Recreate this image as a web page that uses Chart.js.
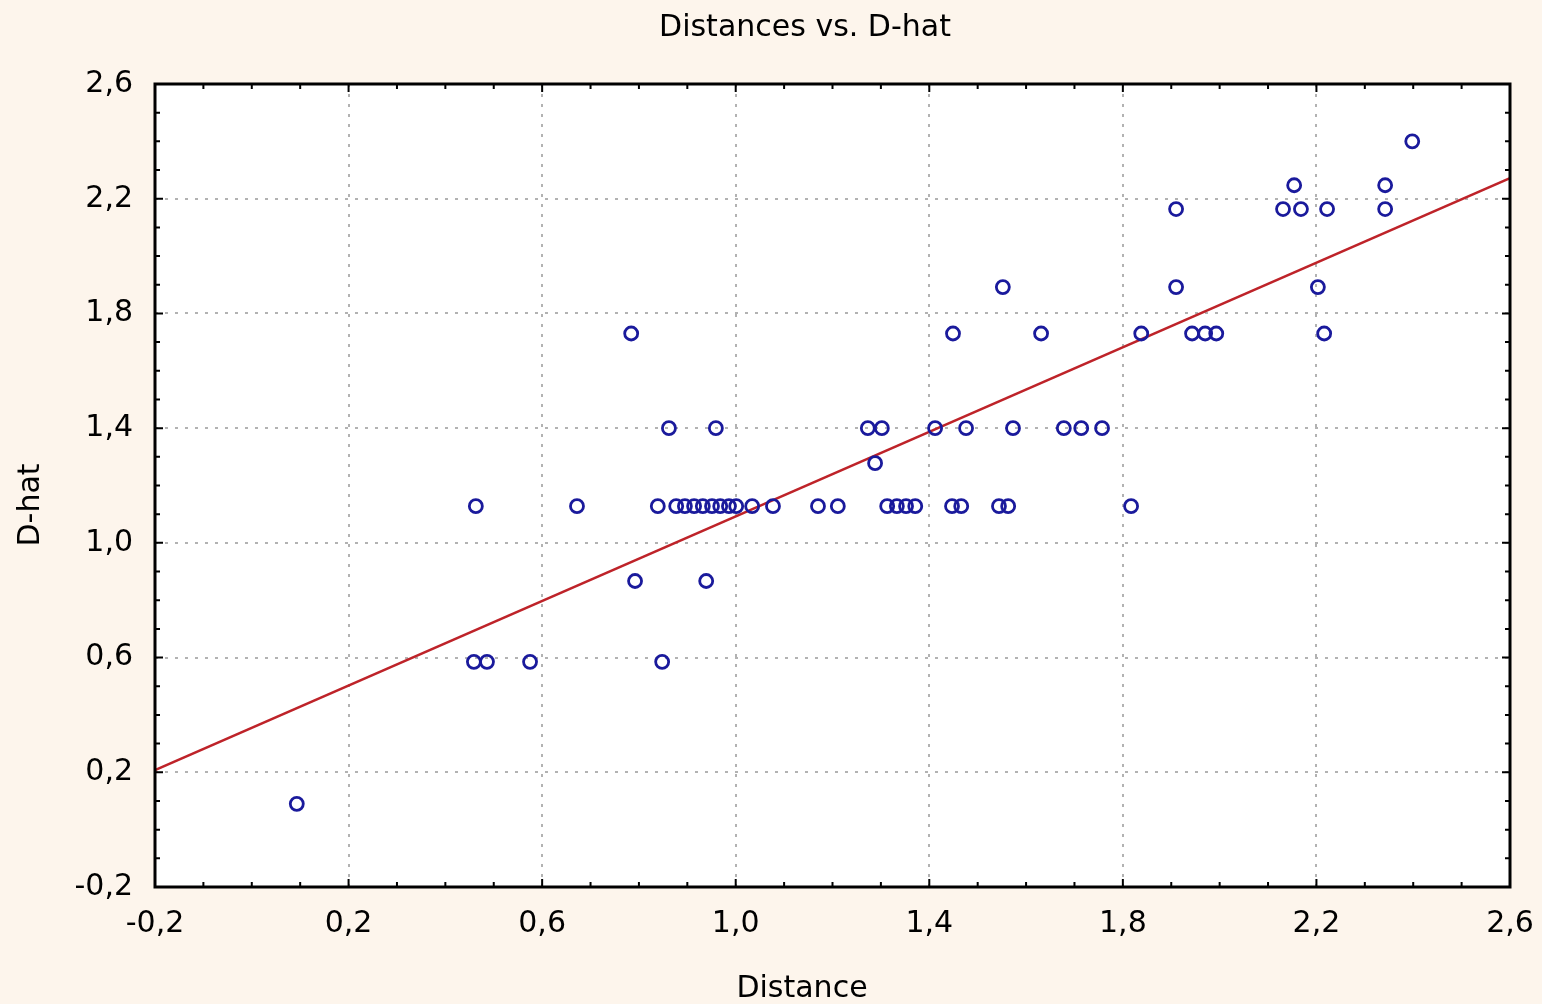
<!DOCTYPE html>
<html>
<head>
<meta charset="utf-8">
<title>Distances vs. D-hat</title>
<script src="https://cdn.jsdelivr.net/npm/chart.js@4.4.1/dist/chart.umd.min.js"></script>
<style>
  html, body { margin: 0; padding: 0; background: #fdf5ec; }
  #wrap { width: 1542px; height: 1004px; }
</style>
</head>
<body>
<div id="wrap"><canvas id="chart" width="1542" height="1004"></canvas></div>
<script>
// Values, one row of dots per line
const distance = [
  2.398,
  2.154, 2.342,
  1.910, 2.131, 2.168, 2.222, 2.342,
  1.552, 1.910, 2.203,
  0.784, 1.449, 1.631, 1.838, 1.943, 1.970, 1.993, 2.216,
  0.862, 0.959, 1.273, 1.302, 1.412, 1.476, 1.573, 1.678, 1.714, 1.757,
  1.288,
  0.463, 0.672, 0.839, 0.877, 0.895, 0.914, 0.932, 0.951, 0.968, 0.986, 1.001, 1.034,
  1.077, 1.170, 1.211, 1.313, 1.333, 1.352, 1.371, 1.447, 1.466, 1.544, 1.563, 1.817,
  0.792, 0.939,
  0.459, 0.486, 0.575, 0.848,
  0.093
];
const dHat = [
  2.400,
  2.247, 2.247,
  2.164, 2.164, 2.164, 2.164, 2.164,
  1.892, 1.892, 1.892,
  1.730, 1.730, 1.730, 1.730, 1.730, 1.730, 1.730, 1.730,
  1.400, 1.400, 1.400, 1.400, 1.400, 1.400, 1.400, 1.400, 1.400, 1.400,
  1.278,
  1.128, 1.128, 1.128, 1.128, 1.128, 1.128, 1.128, 1.128, 1.128, 1.128, 1.128, 1.128,
  1.128, 1.128, 1.128, 1.128, 1.128, 1.128, 1.128, 1.128, 1.128, 1.128, 1.128, 1.128,
  0.867, 0.867,
  0.585, 0.585, 0.585, 0.585,
  0.090
];

// fitted line, ends
const fitX = [-0.2, 2.6];
const fitY = [0.208, 2.272];

const xTicks = [-0.2, 0.2, 0.6, 1.0, 1.4, 1.8, 2.2, 2.6];
const yTicks = [-0.2, 0.2, 0.6, 1.0, 1.4, 1.8, 2.2, 2.6];

const FONT = 'DejaVu Sans';
const fmt = v => Number(v).toFixed(1).replace('.', ',');

// 4 small ticks per major step, drawn inward on the frame
function tickMarks(major) {
  const out = [];
  for (let i = 0; i < major.length - 1; i++) {
    const a = major[i], b = major[i + 1];
    for (let k = 0; k < 4; k++) out.push({ v: a + (b - a) * k / 4, major: k === 0 });
  }
  out.push({ v: major[major.length - 1], major: true });
  return out;
}

const backdrop = {
  id: 'backdrop',
  beforeDraw(chart) {
    const { ctx, chartArea: a } = chart;
    ctx.save();
    ctx.fillStyle = '#fdf5ec';
    ctx.fillRect(0, 0, chart.width, chart.height);
    ctx.fillStyle = '#ffffff';
    ctx.fillRect(a.left, a.top, a.right - a.left, a.bottom - a.top);
    ctx.restore();
  }
};

const frame = {
  id: 'frame',
  afterDraw(chart) {
    const { ctx, chartArea: a, scales } = chart;
    ctx.save();
    ctx.strokeStyle = '#000';
    ctx.lineWidth = 2;
    ctx.beginPath();
    for (const t of tickMarks(xTicks)) {
      const px = scales.x.getPixelForValue(t.v);
      const len = t.major ? 8 : 5;
      ctx.moveTo(px, a.bottom); ctx.lineTo(px, a.bottom - len);
      ctx.moveTo(px, a.top); ctx.lineTo(px, a.top + len);
    }
    for (const t of tickMarks(yTicks)) {
      const py = scales.y.getPixelForValue(t.v);
      const len = t.major ? 8 : 5;
      ctx.moveTo(a.left, py); ctx.lineTo(a.left + len, py);
      ctx.moveTo(a.right, py); ctx.lineTo(a.right - len, py);
    }
    ctx.stroke();
    ctx.lineWidth = 3;
    ctx.strokeRect(a.left, a.top, a.right - a.left, a.bottom - a.top);

    // titles
    ctx.fillStyle = '#000';
    ctx.font = `30px "${FONT}"`;
    ctx.textAlign = 'center';
    ctx.textBaseline = 'alphabetic';
    ctx.fillText('Distances vs. D-hat', 805, 36);
    ctx.fillText('Distance', 802, 997);
    ctx.translate(39, 505);
    ctx.rotate(-Math.PI / 2);
    ctx.fillText('D-hat', 0, 0);
    ctx.restore();
  }
};

const tickFont = { family: FONT, size: 30 };

new Chart(document.getElementById('chart').getContext('2d'), {
  type: 'scatter',
  data: {
    datasets: [
      {
        type: 'line',
        data: fitX.map((x, i) => ({ x, y: fitY[i] })),
        borderColor: '#be2329',
        borderWidth: 2.5,
        pointRadius: 0,
        fill: false,
        order: 2
      },
      {
        data: distance.map((x, i) => ({ x, y: dHat[i] })),
        pointStyle: 'circle',
        pointRadius: 6.5,
        borderWidth: 2.8,
        borderColor: '#1a1a9c',
        backgroundColor: 'rgba(0,0,0,0)',
        order: 1
      }
    ]
  },
  options: {
    responsive: false,
    animation: false,
    layout: { padding: { top: 84, right: 32, left: 0, bottom: 0 } },
    plugins: { legend: { display: false }, tooltip: { enabled: false }, title: { display: false } },
    scales: {
      x: {
        type: 'linear', min: -0.2, max: 2.6,
        afterBuildTicks: s => { s.ticks = xTicks.map(v => ({ value: v })); },
        afterFit: s => { s.height = 117; s.paddingLeft = 0; s.paddingRight = 0; },
        ticks: { callback: fmt, color: '#000', font: tickFont, padding: 19, maxRotation: 0, autoSkip: false },
        grid: { color: '#b2b2b2', lineWidth: 2, drawTicks: false },
        border: { display: false, dash: [3, 7] }
      },
      y: {
        type: 'linear', min: -0.2, max: 2.6,
        afterBuildTicks: s => { s.ticks = yTicks.map(v => ({ value: v })); },
        afterFit: s => { s.width = 155; s.paddingTop = 0; s.paddingBottom = 0; },
        ticks: { callback: fmt, color: '#000', font: tickFont, padding: 22, autoSkip: false },
        grid: { color: '#b2b2b2', lineWidth: 2, drawTicks: false },
        border: { display: false, dash: [3, 7] }
      }
    }
  },
  plugins: [backdrop, frame]
});
</script>
</body>
</html>
